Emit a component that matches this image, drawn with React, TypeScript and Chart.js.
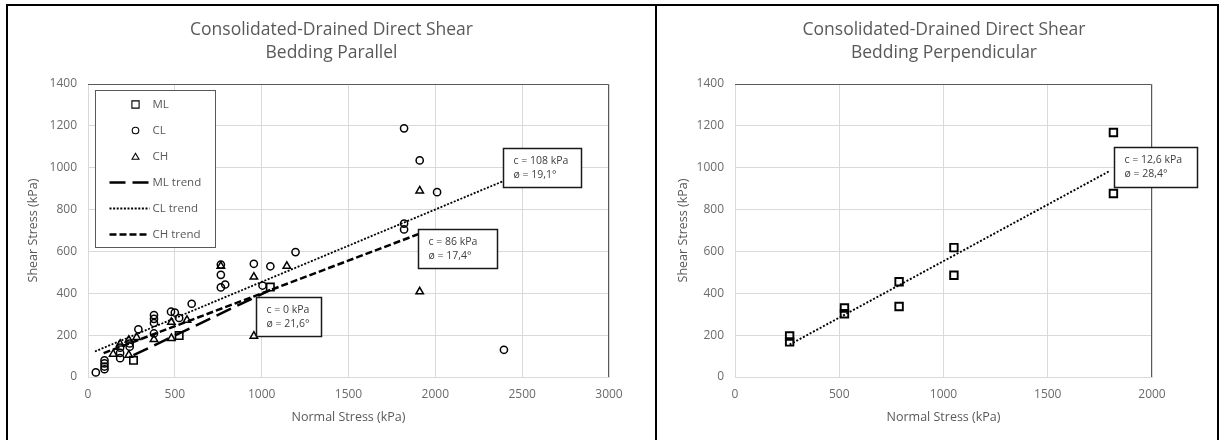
import React, { useEffect, useRef } from "react";
import { Chart, registerables } from "chart.js";

Chart.register(...registerables);

const FONT = "'Open Sans', 'Noto Sans', sans-serif";

// ---------- texts ----------
const parallelTitle = ["Consolidated-Drained Direct Shear", "Bedding Parallel"];
const perpendicularTitle = ["Consolidated-Drained Direct Shear", "Bedding Perpendicular"];
const xAxisTitle = "Normal Stress (kPa)";
const yAxisTitle = "Shear Stress (kPa)";
const seriesLabels = ["ML", "CL", "CH", "ML trend", "CL trend", "CH trend"];

// ---------- Bedding Parallel data ----------
const mlParX = [262, 525, 1050];
const mlParY = [80, 198, 430];

const clParX = [45, 95, 95, 95, 95, 185, 185, 185, 240, 240, 290, 380, 380, 380, 380, 478, 500, 525, 597, 765, 765, 765, 790, 955, 1005, 1050, 1195, 1820, 1820, 1820, 1910, 2010, 2395];
const clParY = [22, 37, 50, 65, 80, 90, 115, 140, 145, 160, 228, 296, 278, 258, 208, 312, 308, 282, 350, 537, 488, 428, 442, 541, 437, 529, 597, 1188, 733, 705, 1035, 883, 130];

const chParX = [145, 185, 235, 235, 280, 380, 480, 480, 570, 765, 955, 955, 1145, 1910, 1910];
const chParY = [110, 158, 105, 177, 190, 180, 262, 185, 272, 530, 478, 196, 530, 890, 408];

const mlTrendX = [262, 1050];
const mlTrendY = [104, 416];
const clTrendX = [40, 2400];
const clTrendY = [122, 939];
const chTrendX = [90, 1910];
const chTrendY = [114, 685];

const parallelNotes = [
  ["c = 108 kPa", "ø = 19,1°"],
  ["c = 86 kPa", "ø = 17,4°"],
  ["c = 0 kPa", "ø = 21,6°"],
];

// ---------- Bedding Perpendicular data ----------
const mlPerX = [262, 262, 525, 525, 787, 787, 1050, 1050, 1815, 1815];
const mlPerY = [196, 168, 330, 302, 455, 337, 618, 486, 1168, 877];
const perTrendX = [262, 1800];
const perTrendY = [155, 986];

const perpendicularNotes = [["c = 12,6 kPa", "ø = 28,4°"]];

// ---------- helpers ----------
const pts = (xs: number[], ys: number[]) => xs.map((x, i) => ({ x, y: ys[i] }));

type NoteBox = { lines: string[]; x: number; y: number; w: number; h: number };

function drawMarker(ctx: CanvasRenderingContext2D, style: string, x: number, y: number) {
  ctx.beginPath();
  if (style === "rect") {
    ctx.rect(x - 3.6, y - 3.6, 7.2, 7.2);
  } else if (style === "circle") {
    ctx.arc(x, y, 3.3, 0, Math.PI * 2);
  } else {
    const r = 4;
    for (let k = 0; k < 3; k++) {
      const a = -Math.PI / 2 + (k * 2 * Math.PI) / 3;
      const px = x + Math.cos(a) * r;
      const py = y + Math.sin(a) * r + 0.8;
      if (k === 0) ctx.moveTo(px, py);
      else ctx.lineTo(px, py);
    }
    ctx.closePath();
  }
  ctx.stroke();
}

function makePanelPlugin(title: string[], titleDx: number, notes: NoteBox[], showLegend: boolean) {
  return {
    id: "panelDecor",
    beforeDatasetsDraw(chart: any) {
      const { ctx, chartArea } = chart;
      ctx.save();
      ctx.strokeStyle = "#595959";
      ctx.lineWidth = 1;
      const t = Math.round(chartArea.top) + 0.5;
      const r = Math.round(chartArea.right) - 0.5;
      ctx.beginPath();
      ctx.moveTo(Math.round(chartArea.left), t);
      ctx.lineTo(r, t);
      ctx.lineTo(r, Math.round(chartArea.bottom));
      ctx.stroke();
      ctx.restore();
    },
    afterDatasetsDraw(chart: any) {
      const { ctx, chartArea, scales } = chart;
      ctx.save();
      // annotation boxes
      for (const n of notes) {
        const bx = Math.round(scales.x.getPixelForValue(n.x)) + 0.5;
        const by = Math.round(scales.y.getPixelForValue(n.y)) + 0.5;
        ctx.fillStyle = "#ffffff";
        ctx.fillRect(bx, by, n.w, n.h);
        ctx.strokeStyle = "#1a1a1a";
        ctx.lineWidth = 1.5;
        ctx.strokeRect(bx, by, n.w, n.h);
        ctx.fillStyle = "#404040";
        ctx.font = `10.5px ${FONT}`;
        ctx.textAlign = "left";
        ctx.textBaseline = "middle";
        n.lines.forEach((line, i) => ctx.fillText(line, bx + 10, by + 13 + i * 13.5));
      }
      // legend
      if (showLegend) {
        const lx = Math.round(chartArea.left + 7) + 0.5;
        const ly = Math.round(chartArea.top + 6) + 0.5;
        const lw = 120;
        const lh = 157;
        ctx.fillStyle = "#ffffff";
        ctx.fillRect(lx, ly, lw, lh);
        ctx.strokeStyle = "#595959";
        ctx.lineWidth = 1;
        ctx.strokeRect(lx, ly, lw, lh);
        chart.data.datasets.forEach((ds: any, i: number) => {
          const rowY = ly + 14 + i * 26;
          ctx.save();
          ctx.strokeStyle = "#000000";
          if (ds.showLine) {
            ctx.lineWidth = ds.borderWidth;
            ctx.setLineDash(ds.borderDash || []);
            ctx.beginPath();
            ctx.moveTo(lx + 14, rowY);
            ctx.lineTo(lx + 54, rowY);
            ctx.stroke();
          } else {
            ctx.lineWidth = 1.1;
            drawMarker(ctx, ds.pointStyle, lx + 40, rowY);
          }
          ctx.restore();
          ctx.fillStyle = "#595959";
          ctx.font = `11.5px ${FONT}`;
          ctx.textAlign = "left";
          ctx.textBaseline = "middle";
          ctx.fillText(ds.label, lx + 57, rowY);
        });
      }
      ctx.restore();
    },
    afterDraw(chart: any) {
      const { ctx } = chart;
      ctx.save();
      ctx.fillStyle = "#595959";
      ctx.font = `17.5px ${FONT}`;
      ctx.textAlign = "center";
      ctx.textBaseline = "middle";
      title.forEach((line, i) => ctx.fillText(line, chart.width / 2 + titleDx, 24 + i * 23));
      ctx.restore();
    },
  };
}

function axisOptions(xMax: number, yAxisWidth: number, yTitlePad: number) {
  const tickFont = { family: FONT, size: 12 };
  const titleFont = { family: FONT, size: 12.5 };
  const plain = (v: any) => String(v);
  return {
    x: {
      type: "linear",
      min: 0,
      max: xMax,
      ticks: { stepSize: 500, color: "#6b6b6b", font: tickFont, padding: 10, maxRotation: 0, callback: plain },
      grid: { color: "#d9d9d9", drawTicks: false },
      border: { color: "#d9d9d9" },
      title: { display: true, text: xAxisTitle, color: "#595959", font: titleFont, padding: { top: 0, bottom: 15 } },
      afterFit: (s: any) => {
        s.height = 63;
      },
    },
    y: {
      type: "linear",
      min: 0,
      max: 1400,
      ticks: { stepSize: 200, color: "#6b6b6b", font: tickFont, padding: 11, callback: plain },
      grid: { color: "#d9d9d9", drawTicks: false },
      border: { display: false },
      title: { display: true, text: yAxisTitle, color: "#595959", font: titleFont, padding: { top: yTitlePad, bottom: 0 } },
      afterFit: (s: any) => {
        s.width = yAxisWidth;
      },
    },
  };
}

const markerBase = {
  showLine: false,
  borderColor: "#000000",
  backgroundColor: "rgba(0,0,0,0)",
  pointBackgroundColor: "rgba(0,0,0,0)",
};
const trendBase = {
  showLine: true,
  pointRadius: 0,
  borderColor: "#000000",
  backgroundColor: "#000000",
  fill: false,
};

function ChartCanvas(props: { left: number; top: number; width: number; height: number; build: () => any }) {
  const ref = useRef<HTMLCanvasElement>(null);
  useEffect(() => {
    const chart = new Chart(ref.current as HTMLCanvasElement, props.build());
    return () => chart.destroy();
  }, []);
  return (
    <canvas
      ref={ref}
      width={props.width}
      height={props.height}
      style={{ position: "absolute", left: props.left, top: props.top, width: props.width, height: props.height }}
    />
  );
}

function buildParallel() {
  const notes: NoteBox[] = [
    { lines: parallelNotes[0], x: 2390, y: 1094, w: 78, h: 39 },
    { lines: parallelNotes[1], x: 1900, y: 707, w: 79, h: 39 },
    { lines: parallelNotes[2], x: 967, y: 382, w: 65, h: 39 },
  ];
  return {
    type: "scatter",
    data: {
      datasets: [
        { ...markerBase, label: seriesLabels[0], data: pts(mlParX, mlParY), pointStyle: "rect", pointRadius: 5.2, borderWidth: 1.6 },
        { ...markerBase, label: seriesLabels[1], data: pts(clParX, clParY), pointStyle: "circle", pointRadius: 3.6, borderWidth: 1.5 },
        { ...markerBase, label: seriesLabels[2], data: pts(chParX, chParY), pointStyle: "triangle", pointRadius: 4.3, borderWidth: 1.5 },
        { ...trendBase, label: seriesLabels[3], data: pts(mlTrendX, mlTrendY), borderWidth: 2.5, borderDash: [16, 7] },
        { ...trendBase, label: seriesLabels[4], data: pts(clTrendX, clTrendY), borderWidth: 1.8, borderDash: [2, 1.6] },
        { ...trendBase, label: seriesLabels[5], data: pts(chTrendX, chTrendY), borderWidth: 2.5, borderDash: [7, 3] },
      ],
    },
    options: {
      responsive: false,
      animation: false,
      devicePixelRatio: 1,
      events: [],
      layout: { padding: { left: 0, top: 78, right: 46, bottom: 0 } },
      scales: axisOptions(3000, 80, 17.5),
      plugins: { legend: { display: false }, tooltip: { enabled: false }, title: { display: false } },
    },
    plugins: [makePanelPlugin(parallelTitle, 0, notes, true)],
  };
}

function buildPerpendicular() {
  const notes: NoteBox[] = [{ lines: perpendicularNotes[0], x: 1818, y: 1099, w: 83, h: 40 }];
  return {
    type: "scatter",
    data: {
      datasets: [
        { ...markerBase, label: "ML", data: pts(mlPerX, mlPerY), pointStyle: "rect", pointRadius: 5.3, borderWidth: 1.9 },
        { ...trendBase, label: "ML trend", data: pts(perTrendX, perTrendY), borderWidth: 1.9, borderDash: [2, 1.8] },
      ],
    },
    options: {
      responsive: false,
      animation: false,
      devicePixelRatio: 1,
      events: [],
      layout: { padding: { left: 0, top: 78, right: 65, bottom: 0 } },
      scales: axisOptions(2000, 78, 18.5),
      plugins: { legend: { display: false }, tooltip: { enabled: false }, title: { display: false } },
    },
    plugins: [makePanelPlugin(perpendicularTitle, 7, notes, false)],
  };
}

export default function App() {
  return (
    <div style={{ position: "absolute", left: 0, top: 0, width: 1221, height: 440, background: "#ffffff", overflow: "hidden" }}>
      <div
        style={{
          position: "absolute",
          left: 6,
          top: 4,
          width: 1209,
          height: 460,
          borderLeft: "2px solid #000",
          borderTop: "2px solid #000",
          borderRight: "2px solid #000",
        }}
      />
      <div style={{ position: "absolute", left: 655, top: 4, width: 2, height: 440, background: "#000" }} />
      <ChartCanvas left={8} top={6} width={647} height={434} build={buildParallel} />
      <ChartCanvas left={657} top={6} width={560} height={434} build={buildPerpendicular} />
    </div>
  );
}
